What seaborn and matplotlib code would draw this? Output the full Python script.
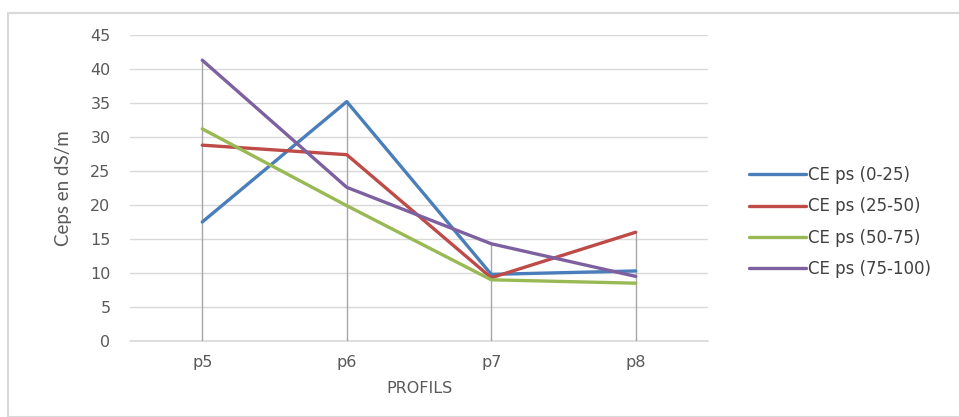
import numpy as np
import pandas as pd
import matplotlib
matplotlib.use("Agg")
import matplotlib.pyplot as plt
import seaborn as sns
from matplotlib.patches import Rectangle
from matplotlib import font_manager

profils = ['p5', 'p6', 'p7', 'p8']
series = ['CE ps (0-25)', 'CE ps (25-50)', 'CE ps (50-75)', 'CE ps (75-100)']
ce_0_25 = [17.5, 35.2, 9.8, 10.3]
ce_25_50 = [28.8, 27.4, 9.3, 16.0]
ce_50_75 = [31.2, 19.9, 9.0, 8.5]
ce_75_100 = [41.3, 22.6, 14.3, 9.5]
colors = ['#4A7EBB', '#BE4B48', '#98B954', '#7D60A0']

df = pd.DataFrame({
    'Profil': profils * 4,
    'Serie': np.repeat(series, 4),
    'CE': ce_0_25 + ce_25_50 + ce_50_75 + ce_75_100,
})

sns.set_style('white')
plt.rcParams['font.family'] = ['DejaVu Sans']

names = {f.name for f in font_manager.fontManager.ttflist}
narrow = 'Liberation Sans Narrow' if 'Liberation Sans Narrow' in names else 'Lato'

fig = plt.figure(figsize=(9.59, 4.17), dpi=100)
ax = fig.add_axes([130 / 959, 1 - 341 / 417, 578 / 959, 306 / 417])

# drop lines from highest value down to the axis
top = df.groupby('Profil', sort=False)['CE'].max()
ax.vlines(range(len(profils)), 0, top.values, color='#A6A6A6', lw=1, zorder=1)

sns.lineplot(data=df, x='Profil', y='CE', hue='Serie', palette=colors,
             linewidth=2.4, ax=ax, legend=False, zorder=3)

ax.set_xlim(-0.5, 3.5)
ax.set_ylim(0, 45)
ax.set_yticks(range(0, 46, 5))
ax.grid(axis='y', color='#D9D9D9', lw=1)
ax.axhline(0, color='#D9D9D9', lw=1.2, clip_on=False, zorder=0.5)
ax.set_axisbelow(True)
for s in ax.spines.values():
    s.set_visible(False)
ax.tick_params(length=0, colors='#595959', labelsize=11.5)
ax.tick_params(axis='y', pad=14)
ax.tick_params(axis='x', pad=10)
ax.set_xlabel('PROFILS', color='#595959', fontsize=11.5, labelpad=8)
ax.set_ylabel('Ceps en dS/m', color='#595959', fontsize=13.5,
              family=[narrow, 'DejaVu Sans'], labelpad=13)

handles = [plt.Line2D([], [], color=c, lw=2.4) for c in colors]
fig.legend(handles, series, loc='upper left', bbox_to_anchor=(734 / 959, 1 - 151 / 417),
           frameon=False, fontsize=12, handlelength=3.4, handletextpad=0.15,
           labelspacing=0.8, labelcolor='#404040')

fig.patches.append(Rectangle((8 / 959, 0), 1, 1 - 13 / 417, transform=fig.transFigure,
                             fill=False, edgecolor='#D9D9D9', lw=1.5))

fig.savefig('out.png', dpi=100)
